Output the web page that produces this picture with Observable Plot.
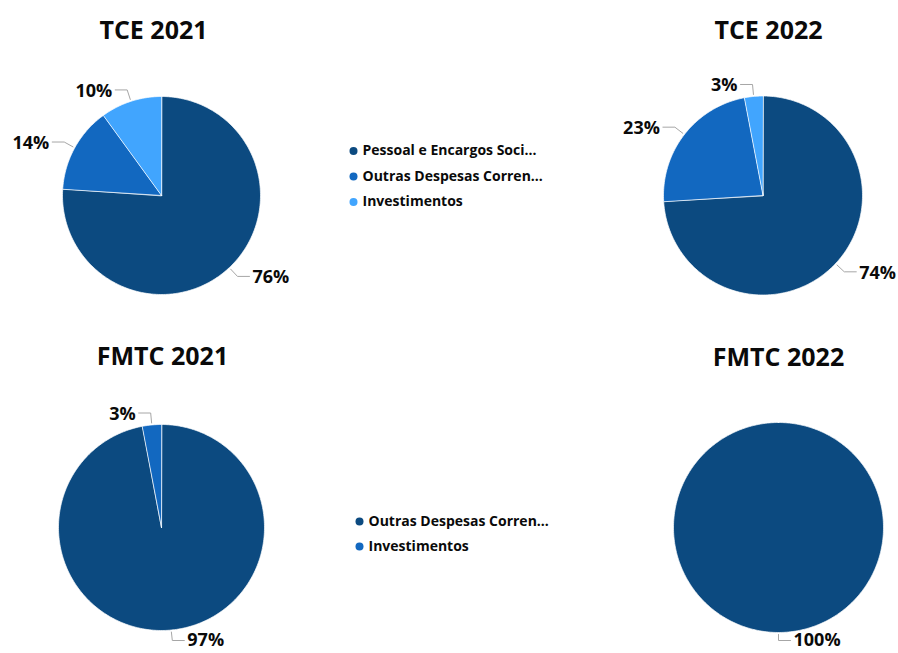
<!DOCTYPE html>
<html>
<head>
<meta charset="utf-8">
<script src="https://cdn.jsdelivr.net/npm/d3@7"></script>
<script src="https://cdn.jsdelivr.net/npm/@observablehq/plot@0.6"></script>
<style>
  body { margin: 0; background: #ffffff; }
  #chart { width: 898px; height: 653px; }
</style>
</head>
<body>
<div id="chart"></div>
<script>
// ---- Data ----
const pieTitles = ["TCE 2021", "TCE 2022", "FMTC 2021", "FMTC 2022"];
const tceCategories = ["Pessoal e Encargos Sociais", "Outras Despesas Correntes", "Investimentos"];
const tceLegendLabels = ["Pessoal e Encargos Soci...", "Outras Despesas Corren...", "Investimentos"];
const fmtcCategories = ["Outras Despesas Correntes", "Investimentos"];
const fmtcLegendLabels = ["Outras Despesas Corren...", "Investimentos"];
const tce2021 = [76, 14, 10];
const tce2022 = [74, 23, 3];
const fmtc2021 = [97, 3];
const fmtc2022 = [100];
const palette = ["#0c4a80", "#1268c0", "#41a5fe"];

// ---- Layout (positions only) ----
const pies = [
  {title: pieTitles[0], values: tce2021, cats: tceCategories, cx: 161, cy: 195, r: 99, tx: 153, ty: 30},
  {title: pieTitles[1], values: tce2022, cats: tceCategories, cx: 762.5, cy: 195, r: 99.5, tx: 768, ty: 30},
  {title: pieTitles[2], values: fmtc2021, cats: fmtcCategories, cx: 161, cy: 527, r: 103, tx: 162, ty: 356},
  {title: pieTitles[3], values: fmtc2022, cats: fmtcCategories, cx: 778, cy: 527, r: 105, tx: 778, ty: 357}
];
const legends = [
  {labels: tceLegendLabels, x: 353, y: 150.5, step: 25.5},
  {labels: fmtcLegendLabels, x: 359, y: 521, step: 25}
];
const maxLabelY = 640;

// ---- Build geometry from values ----
const slices = [];
const leaders = [];
const labels = [];
pies.forEach((p, pi) => {
  const total = d3.sum(p.values);
  const arcs = d3.pie().sort(null).value(d => d)(p.values);
  arcs.forEach((a, i) => {
    if (a.value <= 0) return;
    const id = `${pi}-${i}`;
    const full = a.value === total;
    if (!full) slices.push({id, rank: i, x: p.cx, y: p.cy});
    const n = Math.max(2, Math.ceil((a.endAngle - a.startAngle) / (Math.PI / 180)));
    for (let k = 0; k <= n; k++) {
      const ang = a.startAngle + (a.endAngle - a.startAngle) * k / n;
      slices.push({id, rank: i, x: p.cx + p.r * Math.sin(ang), y: p.cy - p.r * Math.cos(ang)});
    }
    // leader line
    const mid = (a.startAngle + a.endAngle) / 2;
    const s = Math.sin(mid), c = Math.cos(mid);
    const side = s >= -1e-9 ? 1 : -1;
    const A = {x: p.cx + (p.r + 2) * s, y: p.cy - (p.r + 2) * c};
    const B = {x: p.cx + (p.r + 12) * s, y: Math.min(maxLabelY, p.cy - (p.r + 12) * c)};
    const C = {x: B.x + side * 12, y: B.y};
    leaders.push({id, ...A}, {id, ...B}, {id, ...C});
    labels.push({x: C.x + side * 3, y: Math.min(maxLabelY, C.y + 1), side, text: Math.round(a.value / total * 100) + "%"});
  });
});

const legendItems = [];
legends.forEach(L => L.labels.forEach((t, i) => legendItems.push({x: L.x, y: L.y + i * L.step, rank: i, text: t})));

const font = "'Open Sans', 'Noto Sans', sans-serif";

const chart = Plot.plot({
  width: 898,
  height: 653,
  margin: 0,
  style: {fontFamily: font, background: "#ffffff"},
  x: {domain: [0, 898], range: [0, 898], axis: null},
  y: {domain: [0, 653], range: [0, 653], axis: null},
  color: {type: "ordinal", domain: [0, 1, 2], range: palette},
  marks: [
    Plot.line(slices, {x: "x", y: "y", z: "id", fill: "rank", stroke: "#ffffff", strokeWidth: 0.7, curve: "linear-closed"}),
    Plot.line(leaders, {x: "x", y: "y", z: "id", stroke: "#a6a6a6", strokeWidth: 1}),
    Plot.text(labels.filter(d => d.side > 0), {x: "x", y: "y", text: "text", textAnchor: "start", fontSize: 18, fontWeight: 700, fill: "#0a0a0a", fontFamily: font}),
    Plot.text(labels.filter(d => d.side < 0), {x: "x", y: "y", text: "text", textAnchor: "end", fontSize: 18, fontWeight: 700, fill: "#0a0a0a", fontFamily: font}),
    Plot.text(pies, {x: "tx", y: "ty", text: "title", fontSize: 25, fontWeight: 700, fill: "#0a0a0a", fontFamily: font}),
    Plot.dot(legendItems, {x: "x", y: "y", r: 4, fill: "rank", stroke: null}),
    Plot.text(legendItems, {x: d => d.x + 9, y: "y", text: "text", textAnchor: "start", fontSize: 14, fontWeight: 700, fill: "#0a0a0a", fontFamily: font})
  ]
});
document.getElementById("chart").appendChild(chart);
</script>
</body>
</html>
